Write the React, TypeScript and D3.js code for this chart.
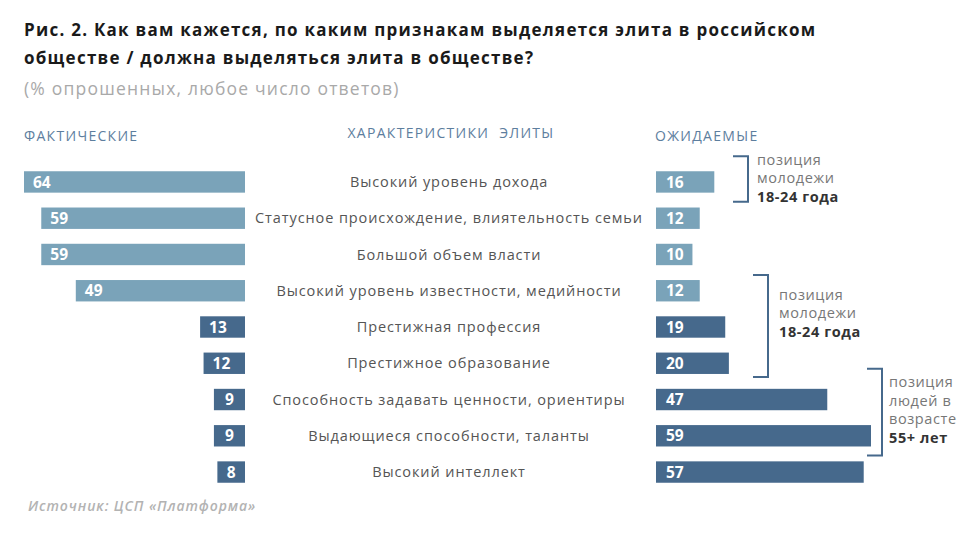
import React from 'react';
import * as d3 from 'd3';

const categories = [
  'Высокий уровень дохода',
  'Статусное происхождение, влиятельность семьи',
  'Большой объем власти',
  'Высокий уровень известности, медийности',
  'Престижная профессия',
  'Престижное образование',
  'Способность задавать ценности, ориентиры',
  'Выдающиеся способности, таланты',
  'Высокий интеллект',
];
const actual = [64, 59, 59, 49, 13, 12, 9, 9, 8];
const expected = [16, 12, 10, 12, 19, 20, 47, 59, 57];
// first four rows drawn in the light shade
const lightRows = [true, true, true, true, false, false, false, false, false];

const brackets = [
  { from: 0, to: 0, lines: ['позиция', 'молодежи'], bold: '18-24 года' },
  { from: 3, to: 5, lines: ['позиция', 'молодежи'], bold: '18-24 года' },
  { from: 6, to: 7, lines: ['позиция', 'людей в', 'возрасте'], bold: '55+ лет' },
];

const LIGHT = '#7aa3b9';
const DARK = '#46698c';
const HEAD = '#5d7e9e';
const FONT = '"Open Sans", "DejaVu Sans", sans-serif';

export default function App() {
  const width = 974;
  const height = 546;

  const y = d3
    .scaleBand<number>()
    .domain(d3.range(categories.length))
    .range([164, 490])
    .paddingInner(0.41)
    .paddingOuter(0.2);

  const leftEdge = 245;
  const xLeft = d3.scaleLinear().domain([0, 64]).range([0, 221]);
  const rightStart = 656;
  const xRight = d3.scaleLinear().domain([0, 59]).range([0, 215]);

  const bh = y.bandwidth();
  const cy = (i: number) => (y(i) as number) + bh / 2;

  // bracket geometry per group
  const bracketX = [748, 768, 882];
  const padTop = [15, 5, 20];
  const padBottom = [9, 3, 9];
  const textShift = [-1, -13, -2];
  const bracketTextX = [757, 779, 889];

  return (
    <svg
      width={width}
      height={height}
      style={{ position: 'absolute', left: 0, top: 0, background: '#fff' }}
      fontFamily={FONT}
    >
      <text x={24} y={36} fontSize={17} fontWeight={700} fill="#1a1a1a" letterSpacing={1.25}>
        Рис. 2. Как вам кажется, по каким признакам выделяется элита в российском
      </text>
      <text x={24} y={64} fontSize={17} fontWeight={700} fill="#1a1a1a" letterSpacing={1.25}>
        обществе / должна выделяться элита в обществе?
      </text>
      <text x={24} y={95} fontSize={17.5} fill="#a9a9a9" letterSpacing={1.2}>
        (% опрошенных, любое число ответов)
      </text>

      <text x={24} y={141} fontSize={14} fill={HEAD} letterSpacing={1.3}>
        ФАКТИЧЕСКИЕ
      </text>
      <text
        x={451}
        y={138}
        fontSize={14}
        fill={HEAD}
        textAnchor="middle"
        letterSpacing={1.3}
        style={{ whiteSpace: 'pre' }}
      >
        ХАРАКТЕРИСТИКИ  ЭЛИТЫ
      </text>
      <text x={655} y={141} fontSize={14} fill={HEAD} letterSpacing={1.3}>
        ОЖИДАЕМЫЕ
      </text>

      {categories.map((c, i) => {
        const color = lightRows[i] ? LIGHT : DARK;
        const wl = xLeft(actual[i]);
        const wr = xRight(expected[i]);
        return (
          <g key={c}>
            <rect x={leftEdge - wl} y={y(i)} width={wl} height={bh} fill={color} />
            <text
              x={leftEdge - wl + (actual[i] < 10 ? wl / 2 : 9)}
              y={cy(i)}
              dy="0.36em"
              fontSize={15.5}
              fontWeight={700}
              fill="#fff"
              textAnchor={actual[i] < 10 ? 'middle' : 'start'}
            >
              {actual[i]}
            </text>
            <text
              x={449}
              y={cy(i)}
              dy="0.35em"
              fontSize={14.5}
              fill="#555"
              textAnchor="middle"
              letterSpacing={0.9}
            >
              {c}
            </text>
            <rect x={rightStart} y={y(i)} width={wr} height={bh} fill={color} />
            <text x={rightStart + 10} y={cy(i)} dy="0.36em" fontSize={15.5} fontWeight={700} fill="#fff">
              {expected[i]}
            </text>
          </g>
        );
      })}

      {brackets.map((b, k) => {
        const top = (y(b.from) as number) - padTop[k];
        const bottom = (y(b.to) as number) + bh + padBottom[k];
        const bx = bracketX[k];
        const all = [...b.lines, b.bold];
        const lh = 18.5;
        const mid = (top + bottom) / 2 + textShift[k];
        const start = mid - ((all.length - 1) * lh) / 2;
        return (
          <g key={k}>
            <path
              d={`M${bx - 15},${top}H${bx}V${bottom}H${bx - 15}`}
              fill="none"
              stroke={DARK}
              strokeWidth={2}
            />
            {all.map((t, j) => (
              <text
                key={j}
                x={bracketTextX[k]}
                y={start + j * lh}
                dy="0.35em"
                fontSize={14.5}
                letterSpacing={0.6}
                fontWeight={j === all.length - 1 ? 700 : 400}
                fill={j === all.length - 1 ? '#333' : '#777'}
              >
                {t}
              </text>
            ))}
          </g>
        );
      })}

      <text
        x={28}
        y={511}
        fontSize={14}
        fontStyle="italic"
        fontWeight={600}
        fill="#b3b3b3"
        letterSpacing={0.9}
      >
        Источник: ЦСП «Платформа»
      </text>
    </svg>
  );
}
